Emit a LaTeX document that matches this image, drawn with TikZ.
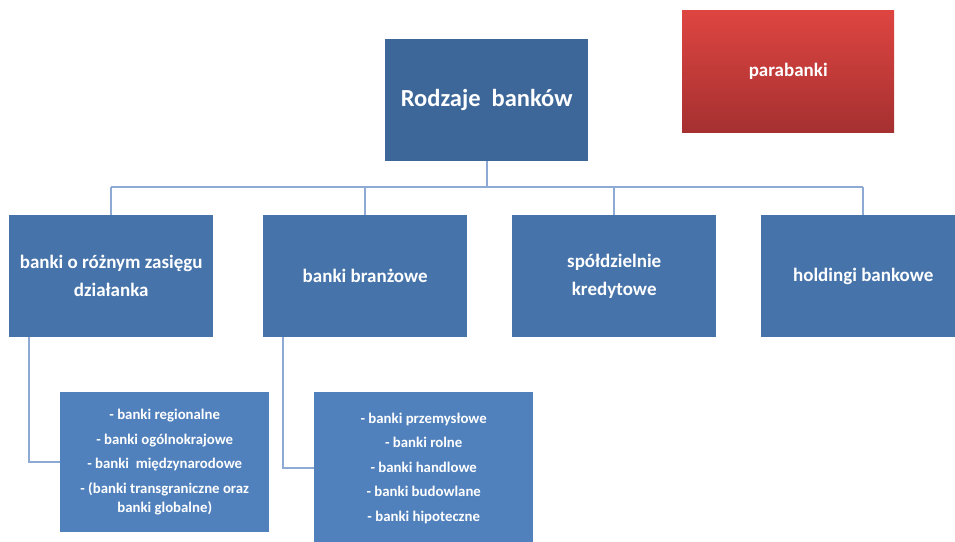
\documentclass[tikz,border=0pt]{standalone}
\usepackage{fontspec}
\setmainfont{Carlito}
\definecolor{rootblue}{RGB}{61,103,153}
\definecolor{childblue}{RGB}{70,116,170}
\definecolor{subblue}{RGB}{80,129,189}
\definecolor{lineblue}{RGB}{140,170,212}
\definecolor{redtop}{RGB}{222,69,65}
\definecolor{redbot}{RGB}{165,48,48}
\begin{document}
\begin{tikzpicture}[x=1pt,y=-1pt,
  box/.style={draw=none, inner sep=0pt, anchor=north west, align=center, text=white},
  childbox/.style={box, fill=childblue, minimum width=204pt, minimum height=122pt,
    font=\bfseries\fontsize{19}{28}\selectfont},
  subbox/.style={box, fill=subblue, font=\bfseries\fontsize{14.8}{19}\selectfont},
  conn/.style={draw=lineblue, line width=1.6pt}]
\clip (0,0) rectangle (955,541);
\fill[white] (0,0) rectangle (955,541);
\node[box, fill=rootblue, minimum width=203pt, minimum height=122pt,
  font=\bfseries\fontsize{24.5}{29}\selectfont] (root) at (385,39) {Rodzaje\ \ banków};
\node[box, top color=redtop, bottom color=redbot, minimum width=212pt, minimum height=122pt,
  font=\bfseries\fontsize{19}{22}\selectfont] (para) at (682,10) {parabanki};
\node[childbox] (c1) at (9,215) {banki o różnym zasięgu\\działanka};
\node[childbox] (c2) at (263,215) {banki branżowe};
\node[childbox] (c3) at (512,215) {spółdzielnie\\kredytowe};
\node[childbox] (c4) at (761,215) {holdingi bankowe};
\node[subbox, minimum width=209pt, minimum height=140pt] (s1) at (60,392)
  {- banki regionalne\\[5.5pt]- banki ogólnokrajowe\\[5.5pt]- banki\ \ międzynarodowe\\[5.5pt]- (banki transgraniczne oraz\\banki globalne)};
\node[subbox, minimum width=219pt, minimum height=152pt] (s2) at (314,392)
  {- banki przemysłowe\\[5.5pt]- banki rolne\\[5.5pt]- banki handlowe\\[5.5pt]- banki budowlane\\[5.5pt]- banki hipoteczne};
\coordinate (hub) at (487,187);
\draw[conn] (root.south) -- (root.south |- hub);
\draw[conn] (c1.north |- hub) -- (c4.north |- hub);
\draw[conn] (c1.north |- hub) -- (c1.north);
\draw[conn] (c2.north |- hub) -- (c2.north);
\draw[conn] (c3.north |- hub) -- (c3.north);
\draw[conn] (c4.north |- hub) -- (c4.north);
\draw[conn] ([xshift=20pt]c1.south west) |- (s1.west);
\draw[conn] ([xshift=20pt]c2.south west) |- (s2.west);
\end{tikzpicture}
\end{document}
